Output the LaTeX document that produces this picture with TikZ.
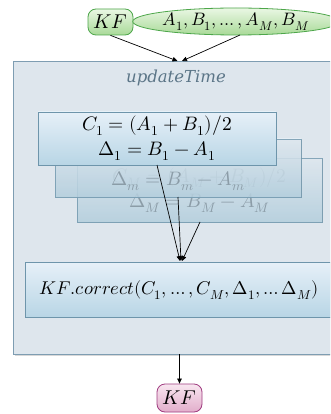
\documentclass[tikz,border=0pt]{standalone}
\usepackage{unicode-math}
\setmathfont{Latin Modern Math}
\usetikzlibrary{shapes.geometric,shadows,arrows.meta}
\definecolor{outerfill}{HTML}{DEE6ED}
\definecolor{outerdraw}{HTML}{7E9DB2}
\definecolor{boxtop}{HTML}{E6F0F8}
\definecolor{boxbot}{HTML}{B8D5E5}
\definecolor{boxdraw}{HTML}{6E95AB}
\definecolor{gtop}{HTML}{EAF7E4}
\definecolor{gbot}{HTML}{A9DA98}
\definecolor{gdraw}{HTML}{4DA64A}
\definecolor{ptop}{HTML}{F8E6F0}
\definecolor{pbot}{HTML}{E2AECB}
\definecolor{pdraw}{HTML}{A03C80}
\definecolor{titlecol}{HTML}{5B7587}
\definecolor{fadecol}{HTML}{7E8E99}
\newfontfamily\titlefont{DejaVu Serif}
\begin{document}
\begin{tikzpicture}[x=1pt,y=-1pt,
  mathfont/.style={font=\fontsize{19.5}{25}\selectfont},
  outerbox/.style={draw=outerdraw,fill=outerfill,line width=1pt,rectangle,inner sep=0pt,
    drop shadow={shadow xshift=1pt,shadow yshift=-1pt,opacity=0.3}},
  calcbox/.style={draw=boxdraw,line width=0.8pt,rectangle,inner sep=0pt,top color=boxtop,bottom color=boxbot,
    align=center,mathfont,
    drop shadow={shadow xshift=1pt,shadow yshift=-1pt,opacity=0.35}},
  fadebox/.style={calcbox,fill opacity=0.8,draw opacity=0.8,text=fadecol,text opacity=0.8},
  gnode/.style={draw=gdraw,line width=0.8pt,top color=gtop,bottom color=gbot,inner sep=0pt,mathfont},
  pnode/.style={draw=pdraw,line width=0.8pt,top color=ptop,bottom color=pbot,inner sep=0pt,mathfont,
    rounded corners=8pt,rectangle},
  arr/.style={-{Triangle[length=5pt,width=4.5pt]},line width=0.7pt,black}
]
\useasboundingbox (0,0) rectangle (330,414);
\clip (0,0) rectangle (330,414);
\fill[white] (0,0) rectangle (330,414);

% outer container
\node[outerbox,minimum width=334pt,minimum height=293pt,anchor=north west] (outer) at (13,61) {};
\node[text=titlecol,font=\titlefont\itshape\fontsize{16.5}{20}\selectfont] (title) at (176,78) {updateTime};

% stacked boxes
\node[fadebox,minimum width=245pt,minimum height=64pt] (cM) at (199.5,190)
  {$C_M=(A_M+B_M)/2$\\$\Delta_M=B_M-A_M$};
\node[fadebox,minimum width=246pt,minimum height=58pt] (cm) at (178,168)
  {$C_m=(A_m+B_m)/2$\\$\Delta_m=B_m-A_m$};
\node[calcbox,minimum width=238pt,minimum height=53pt] (c1) at (157,138.5)
  {$C_1=(A_1+B_1)/2$\\$\Delta_1=B_1-A_1$};

% correct box
\node[calcbox,font=\fontsize{18.5}{22}\selectfont,minimum width=316pt,minimum height=55pt,anchor=north west,align=left,text width=300pt,inner xsep=14pt] (corr) at (25,262)
  {$KF.correct(C_1,\ldots,C_M,\Delta_1,\ldots\Delta_M)$};

% inputs
\node[gnode,rectangle,rounded corners=8pt,minimum width=45pt,minimum height=26pt,font=\fontsize{20}{22}\selectfont] (kf) at (110.5,22) {$KF$};
\node[gnode,ellipse,minimum width=182pt,minimum height=27pt,font=\fontsize{18}{22}\selectfont] (ab) at (236,21.5) {$A_1,B_1,\ldots,A_M,B_M$};

% output
\node[pnode,minimum width=45pt,minimum height=28pt,font=\fontsize{20}{22}\selectfont] (kfout) at (179.5,398) {$KF$};

% connector ends
\coordinate (in1) at (177.5,61);
\coordinate (in2) at (182,61);
\coordinate (c1s) at (157,165);
\coordinate (cms) at (178,197);
\coordinate (cMs) at (200,222);
\coordinate (k1) at (180,261);
\coordinate (k2) at (181,261);
\coordinate (k3) at (182,261);
\coordinate (os) at (179.5,354);

\draw[arr] (kf.south) -- (in1);
\draw[arr] (240,35) -- (in2);
\draw[arr] (c1s) -- (k1);
\draw[arr] (cms) -- (k2);
\draw[arr] (cMs) -- (k3);
\draw[arr] (os) -- (kfout.north);
\end{tikzpicture}
\end{document}
